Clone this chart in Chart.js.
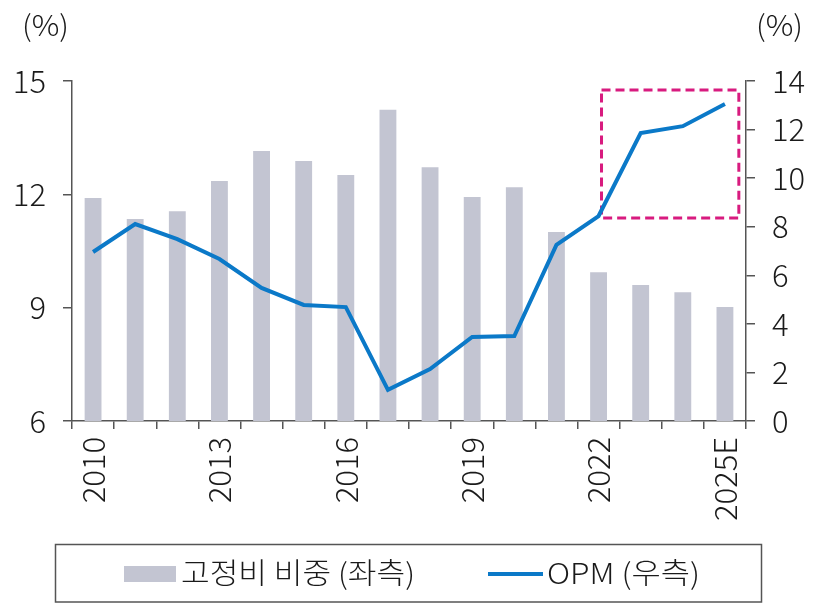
<!DOCTYPE html>
<html>
<head>
<meta charset="utf-8">
<script src="https://cdn.jsdelivr.net/npm/chart.js@4.4.1/dist/chart.umd.min.js"></script>
<style>
  html, body { margin: 0; padding: 0; background: #fff; }
  canvas { display: block; }
</style>
</head>
<body>
<canvas id="c" width="823" height="604"></canvas>
<script>
// 데이터
const categories = ["2010", "2011", "2012", "2013", "2014", "2015", "2016", "2017",
  "2018", "2019", "2020", "2021", "2022", "2023", "2024", "2025E"];
const fixedCostShare = [11.9, 11.35, 11.55, 12.35, 13.15, 12.88, 12.51, 14.24,
  12.72, 11.93, 12.19, 11.0, 9.94, 9.6, 9.41, 9.02];
const opm = [6.96, 8.11, 7.49, 6.67, 5.48, 4.78, 4.69, 1.28,
  2.14, 3.46, 3.5, 7.25, 8.44, 11.86, 12.14, 13.05];
const legendLabels = ["고정비 비중 (좌측)", "OPM (우측)"];
const unitLabel = "(%)";
// 강조 박스 (카테고리 index / 우측축 값)
const highlightX = [12.07, 15.33];
const highlightY = [8.36, 13.63];

const C = {
  bar: "#c3c5d2",
  line: "#0b79c8",
  axis: "#555555",
  text: "#1a1a1a",
  box: "#d81b7f",
};
const NUM_FONT = "'Noto Sans CJK KR', 'Noto Sans', sans-serif";
const KR_FONT = "'Noto Sans CJK KR', 'Noto Sans', sans-serif";

const overlay = {
  id: "overlay",
  beforeDatasetsDraw(chart) {
    const { ctx } = chart;
    const x = chart.scales.x, y1 = chart.scales.y1;
    const l = x.getPixelForValue(highlightX[0]), r = x.getPixelForValue(highlightX[1]);
    const t = y1.getPixelForValue(highlightY[1]), b = y1.getPixelForValue(highlightY[0]);
    ctx.save();
    ctx.strokeStyle = C.box;
    ctx.lineWidth = 3;
    ctx.setLineDash([9, 5]);
    ctx.strokeRect(l, t, r - l, b - t);
    ctx.restore();
  },
  afterDraw(chart) {
    const { ctx } = chart;
    ctx.save();
    ctx.fillStyle = C.text;
    ctx.textBaseline = "middle";
    ctx.font = `300 29px ${NUM_FONT}`;
    ctx.textAlign = "left";
    drawFit(ctx, unitLabel, 22, 25, 47);
    drawFit(ctx, unitLabel, 756, 25, 47);

    // 범례
    ctx.strokeStyle = C.axis;
    ctx.lineWidth = 1.5;
    ctx.strokeRect(55.5, 544.5, 706, 57.5);

    ctx.fillStyle = C.bar;
    ctx.fillRect(124, 566, 52, 16);
    ctx.strokeStyle = C.line;
    ctx.lineWidth = 4;
    ctx.beginPath();
    ctx.moveTo(488, 574);
    ctx.lineTo(543, 574);
    ctx.stroke();

    ctx.fillStyle = C.text;
    ctx.font = `300 29px ${KR_FONT}`;
    drawFit(ctx, legendLabels[0], 181, 573, 234);
    drawFit(ctx, legendLabels[1], 547, 573, 153);
    ctx.restore();
  },
};

function drawFit(ctx, text, x, y, width) {
  const w = ctx.measureText(text).width;
  ctx.save();
  ctx.translate(x, y);
  ctx.scale(width / w, 1);
  ctx.fillText(text, 0, 0);
  ctx.restore();
}

const tickFont = { family: NUM_FONT, size: 31, weight: 300 };

new Chart(document.getElementById("c"), {
  data: {
    labels: categories,
    datasets: [
      {
        type: "line",
        label: legendLabels[1],
        data: opm,
        yAxisID: "y1",
        borderColor: C.line,
        borderWidth: 4,
        pointRadius: 0,
        tension: 0,
        order: 0,
      },
      {
        type: "bar",
        label: legendLabels[0],
        data: fixedCostShare,
        yAxisID: "y",
        backgroundColor: C.bar,
        categoryPercentage: 1,
        barPercentage: 0.4,
        order: 1,
      },
    ],
  },
  options: {
    responsive: false,
    animation: false,
    layout: { padding: { top: 81, left: 0, right: 0, bottom: 0 } },
    plugins: { legend: { display: false }, tooltip: { enabled: false } },
    scales: {
      x: {
        offset: true,
        afterFit(s) { s.height = 183; },
        grid: { offset: true, drawOnChartArea: false, tickLength: 8, color: C.axis, lineWidth: 1.5 },
        border: { color: C.axis, width: 1.5 },
        ticks: {
          autoSkip: false,
          maxRotation: 90,
          minRotation: 90,
          padding: 8,
          color: C.text,
          font: tickFont,
          callback(v, i) { return i % 3 === 0 ? categories[i] : ""; },
        },
      },
      y: {
        position: "left",
        min: 6,
        max: 15,
        afterFit(s) { s.width = 72; },
        grid: { drawOnChartArea: false, tickLength: 9, color: C.axis, lineWidth: 1.5 },
        border: { color: C.axis, width: 1.5 },
        ticks: { stepSize: 3, padding: 17, color: C.text, font: tickFont },
      },
      y1: {
        position: "right",
        min: 0,
        max: 14,
        afterFit(s) { s.width = 77; },
        grid: { drawOnChartArea: false, tickLength: 9, color: C.axis, lineWidth: 1.5 },
        border: { color: C.axis, width: 1.5 },
        ticks: { stepSize: 2, padding: 17, color: C.text, font: tickFont },
      },
    },
  },
  plugins: [overlay],
});
</script>
</body>
</html>
